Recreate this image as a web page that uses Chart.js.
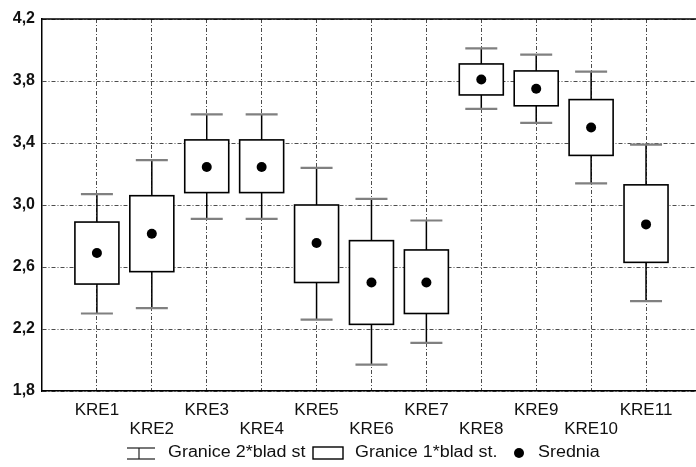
<!DOCTYPE html>
<html>
<head>
<meta charset="utf-8">
<script src="https://cdn.jsdelivr.net/npm/chart.js@4.4.0/dist/chart.umd.min.js"></script>
<style>
  html, body { margin: 0; padding: 0; background: #fff; }
  #wrap { width: 696px; height: 467px; position: relative; }
</style>
</head>
<body>
<div id="wrap"><canvas id="chart"></canvas></div>
<script>
// values
var categories = ['KRE1', 'KRE2', 'KRE3', 'KRE4', 'KRE5', 'KRE6', 'KRE7', 'KRE8', 'KRE9', 'KRE10', 'KRE11'];
var means       = [2.69, 2.815, 3.245, 3.245, 2.755, 2.50, 2.50, 3.81, 3.75, 3.50, 2.875];
var boxLow      = [2.49, 2.57, 3.08, 3.08, 2.50, 2.23, 2.30, 3.71, 3.64, 3.32, 2.63];
var boxHigh     = [2.89, 3.06, 3.42, 3.42, 3.00, 2.77, 2.71, 3.91, 3.865, 3.68, 3.13];
var whiskerLow  = [2.30, 2.335, 2.91, 2.91, 2.26, 1.97, 2.11, 3.62, 3.53, 3.14, 2.38];
var whiskerHigh = [3.07, 3.29, 3.585, 3.585, 3.24, 3.04, 2.90, 4.01, 3.97, 3.86, 3.39];
var yTicks = [1.8, 2.2, 2.6, 3.0, 3.4, 3.8, 4.2];
var legendLabels = ['Granice 2*blad st', 'Granice 1*blad st.', 'Srednia'];

var FONT = '"Liberation Sans", Arial, sans-serif';

function wideText(ctx, text, x, y) {
  ctx.save();
  ctx.translate(x, y);
  ctx.scale(1.12, 1);
  ctx.fillText(text, 0, 0);
  ctx.restore();
}

var boxPlugin = {
  id: 'boxes',
  beforeDatasetsDraw: function(chart) {
    var ctx = chart.ctx;
    var xs = chart.scales.x, ys = chart.scales.y;
    ctx.save();
    for (var i = 0; i < categories.length; i++) {
      var x = xs.getPixelForValue(i + 1);
      var wTop = ys.getPixelForValue(whiskerHigh[i]);
      var wBot = ys.getPixelForValue(whiskerLow[i]);
      var bTop = ys.getPixelForValue(boxHigh[i]);
      var bBot = ys.getPixelForValue(boxLow[i]);
      // whisker stem
      ctx.strokeStyle = '#000';
      ctx.lineWidth = 1.5;
      ctx.beginPath();
      ctx.moveTo(x, wTop); ctx.lineTo(x, wBot);
      ctx.stroke();
      // caps
      ctx.strokeStyle = '#808080';
      ctx.lineWidth = 2.2;
      ctx.beginPath();
      ctx.moveTo(x - 16, wTop); ctx.lineTo(x + 16, wTop);
      ctx.moveTo(x - 16, wBot); ctx.lineTo(x + 16, wBot);
      ctx.stroke();
      // box
      ctx.fillStyle = '#fff';
      ctx.fillRect(x - 22, bTop, 44, bBot - bTop);
      ctx.strokeStyle = '#000';
      ctx.lineWidth = 1.6;
      ctx.strokeRect(x - 22, bTop, 44, bBot - bTop);
    }
    ctx.restore();
  },
  afterDraw: function(chart) {
    var ctx = chart.ctx;
    var a = chart.chartArea;
    ctx.save();
    // top frame line
    ctx.strokeStyle = '#000';
    ctx.lineWidth = 1.5;
    ctx.beginPath();
    ctx.moveTo(a.left, a.top); ctx.lineTo(chart.width, a.top);
    ctx.stroke();

    // legend
    var ly = 453;
    ctx.font = '16px ' + FONT;
    ctx.fillStyle = '#111';
    ctx.textBaseline = 'middle';
    // whisker icon
    ctx.strokeStyle = '#777';
    ctx.lineWidth = 2;
    ctx.beginPath();
    ctx.moveTo(127, ly - 5); ctx.lineTo(155, ly - 5);
    ctx.moveTo(127, ly + 6); ctx.lineTo(155, ly + 6);
    ctx.stroke();
    ctx.strokeStyle = '#222';
    ctx.lineWidth = 1.2;
    ctx.beginPath();
    ctx.moveTo(139, ly - 5); ctx.lineTo(139, ly + 6);
    ctx.stroke();
    wideText(ctx, legendLabels[0], 168, ly);
    // box icon
    ctx.strokeStyle = '#000';
    ctx.lineWidth = 1.4;
    ctx.strokeRect(313, ly - 6, 30, 12);
    wideText(ctx, legendLabels[1], 355, ly);
    // dot icon
    ctx.beginPath();
    ctx.arc(519, ly, 5, 0, Math.PI * 2);
    ctx.fillStyle = '#000';
    ctx.fill();
    ctx.fillStyle = '#111';
    wideText(ctx, legendLabels[2], 538, ly);
    ctx.restore();
  }
};

var gridDash = [4, 2, 1, 2];

new Chart(document.getElementById('chart'), {
  type: 'scatter',
  data: {
    datasets: [{
      label: 'Srednia',
      data: means.map(function(m, i) { return { x: i + 1, y: m }; }),
      pointRadius: 5,
      pointHoverRadius: 5,
      pointBackgroundColor: '#000',
      pointBorderWidth: 0,
      showLine: false
    }]
  },
  options: {
    responsive: true,
    maintainAspectRatio: false,
    animation: false,
    layout: { autoPadding: false, padding: { top: 19, bottom: 26, left: 0, right: 0 } },
    plugins: {
      legend: { display: false },
      tooltip: { enabled: false }
    },
    scales: {
      x: {
        type: 'linear',
        min: 0,
        max: 11.91,
        afterBuildTicks: function(scale) {
          scale.ticks = categories.map(function(c, i) { return { value: i + 1 }; });
        },
        afterFit: function(scale) { scale.height = 50; },
        ticks: {
          autoSkip: false,
          maxRotation: 0,
          padding: 10,
          color: '#111',
          font: { family: FONT, size: 17, lineHeight: 1.1 },
          callback: function(v) {
            var name = categories[v - 1];
            return (v % 2 === 0) ? ['', name] : name;
          }
        },
        grid: { color: 'rgba(0,0,0,0.7)', lineWidth: 1, drawTicks: false },
        border: { display: true, color: '#000', width: 1.5, dash: gridDash }
      },
      y: {
        min: 1.8,
        max: 4.2,
        afterBuildTicks: function(scale) {
          scale.ticks = yTicks.map(function(v) { return { value: v }; });
        },
        afterFit: function(scale) { scale.width = 42; },
        ticks: {
          padding: 7,
          color: '#111',
          font: { family: FONT, size: 16, weight: 'bold' },
          callback: function(v) { return Number(v).toFixed(1).replace('.', ','); }
        },
        grid: { color: 'rgba(0,0,0,0.7)', lineWidth: 1, drawTicks: false },
        border: { display: true, color: '#000', width: 1.5, dash: gridDash }
      }
    }
  },
  plugins: [boxPlugin]
});
</script>
</body>
</html>
